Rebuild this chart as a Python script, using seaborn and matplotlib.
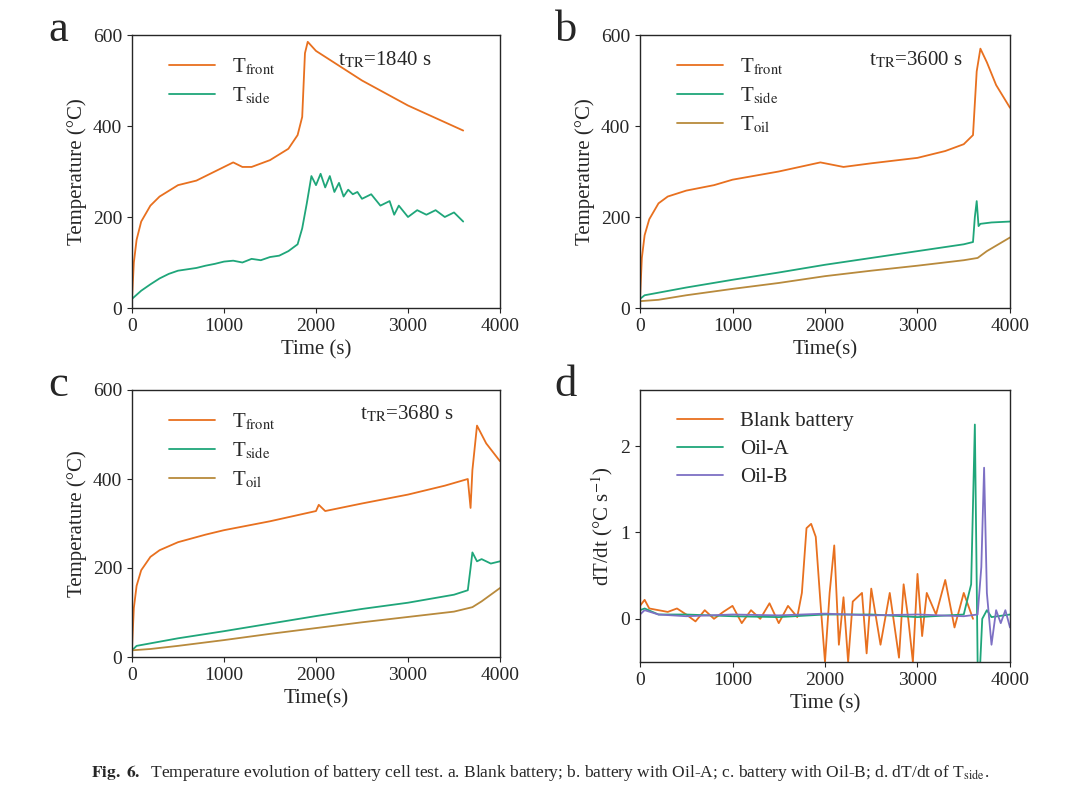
import numpy as np
import pandas as pd
import matplotlib
matplotlib.use("Agg")
import matplotlib.pyplot as plt
import seaborn as sns

sns.set_style("ticks")
plt.rcParams['font.family'] = ['Liberation Serif', 'DejaVu Serif']
plt.rcParams['mathtext.fontset'] = 'stix'

c_front = '#e8701f'
c_side = '#1fa67a'
c_oil = '#b88a3c'
c_oilb = '#7d70c4'

# panel a
a_ft_t = [0, 20, 50, 100, 200, 300, 500, 700, 900, 1100, 1200, 1300, 1500, 1700, 1800, 1850, 1880, 1910, 2000, 2500, 3000, 3600]
a_ft_v = [20, 100, 150, 190, 225, 245, 270, 280, 300, 320, 310, 310, 325, 350, 380, 420, 560, 585, 565, 500, 445, 390]
a_sd_t = [0, 100, 200, 300, 400, 500, 600, 700, 800, 900, 1000, 1100, 1200, 1300, 1400, 1500, 1600, 1700, 1800, 1850, 1900, 1950,
          2000, 2050, 2100, 2150, 2200, 2250, 2300, 2350, 2400, 2450, 2500, 2600, 2700, 2800, 2850, 2900, 3000, 3100, 3200, 3300, 3400, 3500, 3600]
a_sd_v = [20, 38, 52, 65, 75, 82, 85, 88, 93, 97, 102, 104, 100, 108, 105, 112, 115, 125, 140, 175, 230, 290,
          270, 295, 265, 290, 255, 275, 245, 260, 250, 255, 240, 250, 225, 235, 205, 225, 200, 215, 205, 215, 200, 210, 190]

# panel b
b_ft_t = [0, 20, 50, 100, 200, 300, 500, 800, 1000, 1500, 1950, 2200, 2500, 3000, 3300, 3500, 3600, 3640, 3680, 3750, 3850, 4000]
b_ft_v = [20, 110, 160, 195, 230, 245, 258, 270, 282, 300, 320, 310, 318, 330, 345, 360, 380, 520, 570, 540, 490, 440]
b_sd_t = [0, 50, 500, 1000, 1500, 2000, 2500, 3000, 3500, 3600, 3620, 3640, 3660, 3680, 3800, 4000]
b_sd_v = [20, 28, 45, 62, 78, 95, 110, 125, 140, 145, 200, 235, 180, 185, 188, 190]
b_oil_t = [0, 200, 500, 1000, 1500, 2000, 2500, 3000, 3500, 3650, 3750, 4000]
b_oil_v = [15, 18, 28, 42, 55, 70, 82, 93, 105, 110, 125, 155]

# panel c
c_ft_t = [0, 20, 50, 100, 200, 300, 500, 800, 1000, 1500, 2000, 2030, 2100, 2500, 3000, 3400, 3650, 3680, 3700, 3750, 3850, 4000]
c_ft_v = [20, 110, 160, 195, 225, 240, 258, 275, 285, 305, 328, 342, 328, 345, 365, 385, 400, 335, 420, 520, 480, 440]
c_sd_t = [0, 50, 500, 1000, 1500, 2000, 2500, 3000, 3500, 3650, 3680, 3700, 3750, 3800, 3900, 4000]
c_sd_v = [15, 25, 42, 58, 75, 92, 108, 122, 140, 150, 200, 235, 215, 220, 210, 215]
c_oil_t = [0, 200, 500, 1000, 1500, 2000, 2500, 3000, 3500, 3700, 3800, 4000]
c_oil_v = [15, 18, 25, 38, 52, 65, 78, 90, 102, 112, 125, 155]

# panel d
d_bl_t = [0, 50, 100, 200, 300, 400, 500, 600, 700, 800, 900, 1000, 1100, 1200, 1300, 1400, 1500, 1600, 1700, 1750, 1800, 1850, 1900, 1950,
          2000, 2050, 2100, 2150, 2200, 2250, 2300, 2400, 2450, 2500, 2600, 2700, 2800, 2850, 2900, 2950, 3000, 3050, 3100, 3200, 3300, 3400, 3500, 3600]
d_bl_v = [0.15, 0.22, 0.12, 0.1, 0.08, 0.12, 0.05, -0.03, 0.1, 0.0, 0.08, 0.15, -0.05, 0.1, 0.0, 0.18, -0.05, 0.15, 0.02, 0.3, 1.05, 1.1, 0.95, 0.2,
          -0.5, 0.3, 0.85, -0.3, 0.25, -0.5, 0.2, 0.3, -0.4, 0.35, -0.3, 0.3, -0.45, 0.4, 0.0, -0.5, 0.52, -0.2, 0.3, 0.05, 0.45, -0.1, 0.3, 0.0]
d_a_t = [0, 50, 200, 500, 1000, 1500, 2000, 2500, 3000, 3500, 3580, 3620, 3650, 3670, 3700, 3750, 3800, 4000]
d_a_v = [0.1, 0.12, 0.05, 0.05, 0.03, 0.02, 0.05, 0.05, 0.02, 0.05, 0.4, 2.25, -0.5, -0.7, 0.0, 0.1, 0.02, 0.05]
d_b_t = [0, 50, 200, 500, 1000, 1500, 2000, 2500, 3000, 3500, 3650, 3690, 3720, 3750, 3800, 3850, 3900, 3950, 4000]
d_b_v = [0.05, 0.1, 0.05, 0.03, 0.05, 0.04, 0.06, 0.04, 0.05, 0.03, 0.05, 0.6, 1.75, 0.3, -0.3, 0.1, -0.05, 0.1, -0.1]

fig = plt.figure(figsize=(10.8, 7.89), dpi=100)
W, H = 1080, 789
def add(l, t, r, b):
    return fig.add_axes([l / W, 1 - b / H, (r - l) / W, (b - t) / H])

axa = add(132, 35, 500, 308)
axb = add(640, 35, 1010, 308)
axc = add(132, 390, 500, 657)
axd = add(640, 390, 1010, 662)

def line(ax, t, v, col, lab):
    sns.lineplot(x=t, y=v, color=col, lw=1.3, label=lab, ax=ax, estimator=None, sort=False)

line(axa, a_ft_t, a_ft_v, c_front, r'T$_{\rm front}$')
line(axa, a_sd_t, a_sd_v, c_side, r'T$_{\rm side}$')
line(axb, b_ft_t, b_ft_v, c_front, r'T$_{\rm front}$')
line(axb, b_sd_t, b_sd_v, c_side, r'T$_{\rm side}$')
line(axb, b_oil_t, b_oil_v, c_oil, r'T$_{\rm oil}$')
line(axc, c_ft_t, c_ft_v, c_front, r'T$_{\rm front}$')
line(axc, c_sd_t, c_sd_v, c_side, r'T$_{\rm side}$')
line(axc, c_oil_t, c_oil_v, c_oil, r'T$_{\rm oil}$')
line(axd, d_bl_t, d_bl_v, c_front, 'Blank battery')
line(axd, d_a_t, d_a_v, c_side, 'Oil-A')
line(axd, d_b_t, d_b_v, c_oilb, 'Oil-B')

fs = 15
for ax, xl, tr, tx in [(axa, 'Time (s)', r't$_{\rm TR}$=1840 s', 0.56), (axb, 'Time(s)', r't$_{\rm TR}$=3600 s', 0.62),
                       (axc, 'Time(s)', r't$_{\rm TR}$=3680 s', 0.62)]:
    ax.set_xlim(0, 4000)
    ax.set_ylim(0, 600)
    ax.set_yticks([0, 200, 400, 600])
    ax.set_ylabel('Temperature (°C)', fontsize=fs)
    ax.text(tx, 0.91, tr, transform=ax.transAxes, ha='left', va='center', fontsize=fs)
    ax.set_xlabel(xl, fontsize=fs)
axd.set_xlim(0, 4000)
axd.set_ylim(-0.5, 2.65)
axd.set_yticks([0, 1, 2])
axd.set_xlabel('Time (s)', fontsize=fs)
axd.set_ylabel(r'dT/dt (°C s$^{-1}$)', fontsize=fs)

for ax, letter in [(axa, 'a'), (axb, 'b'), (axc, 'c'), (axd, 'd')]:
    ax.set_xticks([0, 1000, 2000, 3000, 4000])
    ax.tick_params(labelsize=14, direction='out')
    for s in ax.spines.values():
        s.set_visible(True)
        s.set_linewidth(1.0)
    ax.legend(loc='upper left', frameon=False, fontsize=fs, handlelength=2.2,
              bbox_to_anchor=(0.05, 0.99), labelspacing=0.4)
    ax.text(-0.2, 1.02, letter, transform=ax.transAxes, fontsize=32, ha='center', va='center')

fig.text(0.5, 1 - 773 / H, r'$\bf{Fig.\ 6.}$  Temperature evolution of battery cell test. a. Blank battery; b. battery with Oil-A; '
         r'c. battery with Oil-B; d. dT/dt of T$_{\rm side}$.', ha='center', va='center', fontsize=12.5)

fig.savefig('out.png', dpi=100)
